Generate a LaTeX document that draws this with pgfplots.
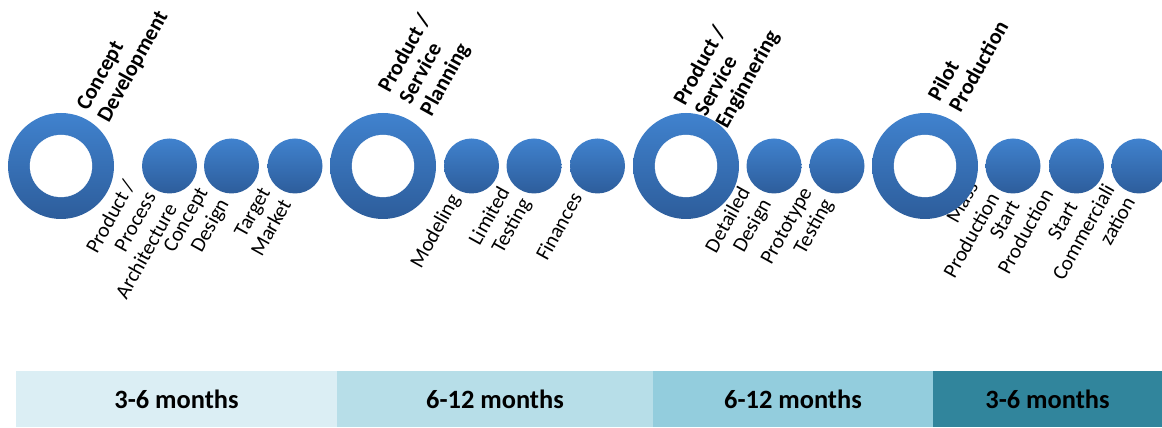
\documentclass[border=0pt]{standalone}
\usepackage{fontspec}
\setmainfont{Carlito}
\usepackage{pgfplots}
\pgfplotsset{compat=1.18}
\definecolor{cTop}{HTML}{4082CE}
\definecolor{cBot}{HTML}{2D5D9B}
\definecolor{barA}{HTML}{DBEEF4}
\definecolor{barB}{HTML}{B7DEE8}
\definecolor{barC}{HTML}{93CDDD}
\definecolor{barD}{HTML}{31859C}
\newcommand{\durfont}{\bfseries\fontsize{26.5}{30}\selectfont}
\tikzset{
  lo/.style={rotate=61, anchor=base east, inner sep=0pt, font=\fontsize{21}{24}\selectfont},
  loc/.style={rotate=61, anchor=base, inner sep=0pt, font=\fontsize{21}{24}\selectfont},
  up/.style={rotate=61, anchor=base west, inner sep=0pt, font=\bfseries\fontsize{22}{25}\selectfont}}
\begin{document}
\begin{tikzpicture}
\begin{axis}[name=ax, width=1162bp, height=427bp, scale only axis,
  xmin=0, xmax=1162, ymin=0, ymax=427, hide axis, clip=false]
% duration bars
\addplot[fill=barA, draw=none] coordinates {(16,0)(337,0)(337,56.3)(16,56.3)} -- cycle;
\addplot[fill=barB, draw=none] coordinates {(337,0)(653,0)(653,56.3)(337,56.3)} -- cycle;
\addplot[fill=barC, draw=none] coordinates {(653,0)(933,0)(933,56.3)(653,56.3)} -- cycle;
\addplot[fill=barD, draw=none] coordinates {(933,0)(1162,0)(1162,56.3)(933,56.3)} -- cycle;
% big rings (outer)
\addplot[draw=none, mark=none, nodes near coords={},
  every node near coord/.append style={circle, inner sep=0pt, minimum size=106bp,
    top color=cTop, bottom color=cBot, anchor=center}]
  coordinates {(61,261)(383,261)(686,261)(925,261)};
% ring holes
\addplot[only marks, mark=*, mark size=31bp, mark options={fill=white, draw=white, line width=0.3bp}]
  coordinates {(61,261)(383,261)(686,261)(925,261)};
% small circles
\addplot[draw=none, mark=none, nodes near coords={},
  every node near coord/.append style={circle, inner sep=0pt, minimum size=55bp,
    top color=cTop, bottom color=cBot, anchor=center}]
  coordinates {(169.5,261)(231.5,261)(295,261)(471.5,261)(534,261)(597.5,261)
               (774,261)(837,261)(1013,261)(1076.5,261)(1139,261)};
% phase labels
\node[up] at (axis cs:87.7,315.2) {Concept};
\node[up] at (axis cs:108.7,303.6) {Development};
\node[up] at (axis cs:389.5,333) {Product /};
\node[up] at (axis cs:410.5,321.4) {Service};
\node[up] at (axis cs:431.5,309.7) {Planning};
\node[up] at (axis cs:684.9,320.5) {Product /};
\node[up] at (axis cs:705.9,308.9) {Service};
\node[up] at (axis cs:726.9,297.2) {Enginnering};
\node[up] at (axis cs:939.5,324.7) {Pilot};
\node[up] at (axis cs:960.5,313.1) {Production};
% step labels
\node[lo] at (axis cs:135.7,242) {Product /};
\node[lo] at (axis cs:156.7,230.4) {Process};
\node[lo] at (axis cs:177.7,218.7) {Architecture};
\node[lo] at (axis cs:208.3,235.2) {Concept};
\node[lo] at (axis cs:229.3,223.6) {Design};
\node[lo] at (axis cs:270.8,234.8) {Target};
\node[lo] at (axis cs:291.8,223.2) {Market};
\node[lo] at (axis cs:460.4,228.3) {Modeling};
\node[lo] at (axis cs:510.3,235.7) {Limited};
\node[lo] at (axis cs:531.3,224.1) {Testing};
\node[lo] at (axis cs:583,229.8) {Finances};
\node[lo] at (axis cs:750.7,235.1) {Detailed};
\node[lo] at (axis cs:771.7,223.5) {Design};
\node[lo] at (axis cs:812.5,235.2) {Prototype};
\node[lo] at (axis cs:833.5,223.6) {Testing};
\node[lo] at (axis cs:979,241) {Mass};
\node[lo] at (axis cs:1000,229.4) {Production};
\node[loc] at (axis cs:1010.4,203.8) {Start};
\node[loc] at (axis cs:1031.4,192.2) {Production};
\node[loc] at (axis cs:1068.5,203.1) {Start};
\node[loc] at (axis cs:1089.5,191.5) {Commerciali};
\node[lo] at (axis cs:1135.7,225.4) {zation};
% durations
\node[font=\durfont] at (axis cs:176.5,28) {3-6 months};
\node[font=\durfont] at (axis cs:495,28) {6-12 months};
\node[font=\durfont] at (axis cs:793,28) {6-12 months};
\node[font=\durfont] at (axis cs:1047.5,28) {3-6 months};
\end{axis}
\pgfresetboundingbox
\useasboundingbox (ax.south west) rectangle (ax.north east);
\end{tikzpicture}
\end{document}
